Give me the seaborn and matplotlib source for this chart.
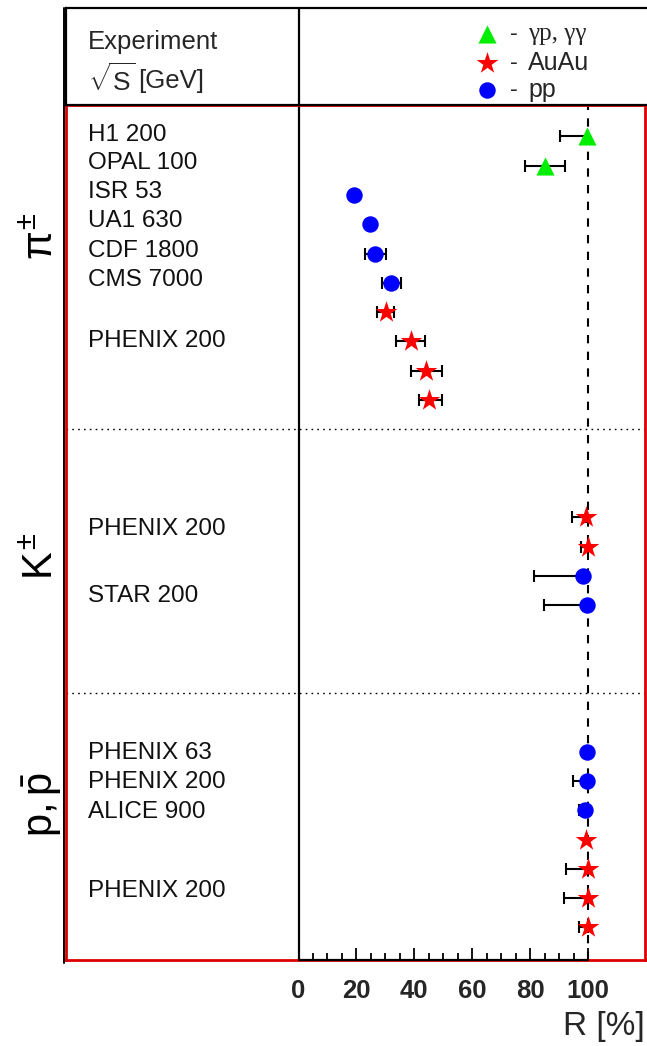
import numpy as np
import pandas as pd
import matplotlib
matplotlib.use("Agg")
import matplotlib.pyplot as plt
import seaborn as sns

sns.set_theme(style="white")
plt.rcParams['font.family'] = ['Liberation Sans', 'DejaVu Sans']
plt.rcParams['mathtext.fontset'] = 'custom'
plt.rcParams['mathtext.rm'] = 'Liberation Sans'
plt.rcParams['mathtext.it'] = 'Liberation Sans'
plt.rcParams['mathtext.bf'] = 'Liberation Sans:bold'

# ---------------- data ----------------
# pions
pi_labels = ["H1 200", "OPAL 100", "ISR 53", "UA1 630", "CDF 1800", "CMS 7000", "PHENIX 200"]
pi_label_rows = [0.95, 1.9, 2.9, 3.9, 4.9, 5.9, 8.0]
pi_rows = [1, 2, 3, 4, 5, 6, 7, 8, 9, 10]
pi_R = [99.5, 85.1, 19.0, 24.8, 26.3, 32.1, 30.1, 38.8, 44.2, 45.1]
pi_type = ["gamma", "gamma", "pp", "pp", "pp", "pp", "AuAu", "AuAu", "AuAu", "AuAu"]
pi_err_lo = [9.0, 7.0, 0.0, 0.0, 3.5, 3.3, 2.9, 5.0, 5.5, 3.5]
pi_err_hi = [0.0, 7.0, 0.0, 0.0, 4.0, 3.3, 2.9, 5.0, 5.5, 4.5]

# kaons
k_labels = ["PHENIX 200", "STAR 200"]
k_label_rows = [14.4, 16.7]
k_rows = [14, 15, 16, 17]
k_R = [99.4, 100.0, 98.3, 99.7]
k_type = ["AuAu", "AuAu", "pp", "pp"]
k_err_lo = [5.0, 2.3, 17.0, 15.0]
k_err_hi = [0.0, 0.0, 0.0, 0.0]

# protons
p_labels = ["PHENIX 63", "PHENIX 200", "ALICE 900", "PHENIX 200"]
p_label_rows = [22.05, 23.05, 24.05, 26.75]
p_rows = [22, 23, 24, 25, 26, 27, 28]
p_R = [99.7, 99.7, 98.9, 99.4, 100.0, 100.0, 100.0]
p_type = ["pp", "pp", "pp", "AuAu", "AuAu", "AuAu", "AuAu"]
p_err_lo = [0.0, 5.0, 2.0, 0.0, 7.7, 8.4, 3.0]
p_err_hi = [0.0, 0.0, 0.0, 0.0, 0.0, 0.0, 0.0]

group_names = [r"$\pi^{\pm}$", r"$K^{\pm}$", r"$p,\bar{p}$"]
separators = [11, 20]
x_ticks = [0, 20, 40, 60, 80, 100]

type_colors = {"gamma": "#00ee00", "AuAu": "#ff0000", "pp": "#0000ff"}
type_markers = {"gamma": "^", "AuAu": "*", "pp": "o"}
type_sizes = {"gamma": 170, "AuAu": 270, "pp": 140}
legend_text = {"gamma": "γp, γγ", "AuAu": "AuAu", "pp": "pp"}

df = pd.DataFrame({
    "row": pi_rows + k_rows + p_rows,
    "R": pi_R + k_R + p_R,
    "type": pi_type + k_type + p_type,
    "lo": pi_err_lo + k_err_lo + p_err_lo,
    "hi": pi_err_hi + k_err_hi + p_err_hi,
})

# ---------------- layout ----------------
W, H = 647, 1046
fig = plt.figure(figsize=(W / 100, H / 100), dpi=100)

px_per = 2.895
x0px = 298.5
def xd(px):
    return (px - x0px) / px_per

ax_l, ax_r, ax_t, ax_b = 66, 645, 105, 960
ax = fig.add_axes([ax_l / W, 1 - ax_b / H, (ax_r - ax_l) / W, (ax_b - ax_t) / H])
ax.set_xlim(xd(ax_l), xd(ax_r))
ybot, ytop = 29.11, -0.07
ax.set_ylim(ybot, ytop)

# error bars
eb = df[(df["lo"] + df["hi"]) > 0]
ax.errorbar(eb["R"], eb["row"], xerr=[eb["lo"], eb["hi"]], fmt="none",
            ecolor="black", elinewidth=1.5, capsize=4, capthick=1.5, zorder=3)

# markers (seaborn)
for t in ["gamma", "AuAu", "pp"]:
    sub = df[df["type"] == t]
    sns.scatterplot(data=sub, x="R", y="row", color=type_colors[t],
                    marker=type_markers[t], s=type_sizes[t], linewidth=0,
                    ax=ax, legend=False, zorder=4)

ax.set_xlabel("")
ax.set_ylabel("")

# reference lines
ax.axvline(100, color="black", lw=1.5, ls=(0, (4, 4)), zorder=2)
ax.axvline(0, color="black", lw=1.6, zorder=2)
for s in separators:
    ax.axhline(s, color="black", lw=1.0, ls=(0, (1.2, 3)), zorder=2)
ax.plot([0, 100], [ybot, ybot], color="black", lw=1.6, clip_on=False, zorder=6)

# spines
for sp in ax.spines.values():
    sp.set_color("#dd0000")
    sp.set_linewidth(2.0)

ax.set_yticks([])
ax.set_xticks(x_ticks)
ax.set_xticks(np.arange(0, 101, 5), minor=True)
ax.tick_params(axis="x", which="major", direction="in", length=9, width=1.3,
               color="black", labelsize=18.5, pad=14, bottom=True)
ax.tick_params(axis="x", which="minor", direction="in", length=5, width=1.3,
               color="black", bottom=True)
for lbl in ax.get_xticklabels():
    lbl.set_fontweight("bold")

# experiment labels
lab_x = xd(88)
for labels, rows in [(pi_labels, pi_label_rows), (k_labels, k_label_rows), (p_labels, p_label_rows)]:
    for lab, r in zip(labels, rows):
        ax.text(lab_x, r, lab, ha="left", va="center", fontsize=17.5, color="#111111")

# group names
group_y_px = [236, 556, 805]
for name, ypx in zip(group_names, group_y_px):
    fig.text(42 / W, 1 - ypx / H, name, rotation=90, ha="center", va="center",
             fontsize=30, color="black")

# outer black frame line on left
fig.add_artist(plt.Line2D([64 / W, 64 / W], [1 - 963 / H, 1 - 8 / H],
                          color="black", lw=1.4, transform=fig.transFigure))

# ---------------- header ----------------
hd_t, hd_b = 8, 105
hax = fig.add_axes([ax_l / W, 1 - hd_b / H, (W - ax_l) / W, (hd_b - hd_t) / H])
hax.set_xlim(xd(ax_l), xd(W))
hax.set_ylim(hd_b, hd_t)
hax.set_xticks([])
hax.set_yticks([])
for k, sp in hax.spines.items():
    sp.set_color("black")
    sp.set_linewidth(1.6)
hax.spines["right"].set_visible(False)
hax.axvline(0, color="black", lw=1.6)

hax.text(xd(88), 42, "Experiment", ha="left", va="center", fontsize=18.5)
hax.text(xd(88), 80, r"$\sqrt{\mathrm{S}}$", ha="left", va="center", fontsize=19)
hax.text(xd(138), 81, "[GeV]", ha="left", va="center", fontsize=18.5)

leg_y = {"gamma": 34, "AuAu": 63, "pp": 90}
for t in ["gamma", "AuAu", "pp"]:
    hax.scatter([xd(487)], [leg_y[t]], marker=type_markers[t], s=type_sizes[t],
                color=type_colors[t], linewidths=0, zorder=4)
    hax.text(xd(510), leg_y[t], "-", ha="left", va="center", fontsize=17)
    hax.text(xd(528), leg_y[t], legend_text[t], ha="left", va="center", fontsize=18,
             family=["Liberation Serif", "DejaVu Serif"] if t == "gamma" else None)

fig.text(645 / W, 1 - 1027 / H, "R [%]", ha="right", va="center", fontsize=24)

fig.savefig("out.png", dpi=100)
